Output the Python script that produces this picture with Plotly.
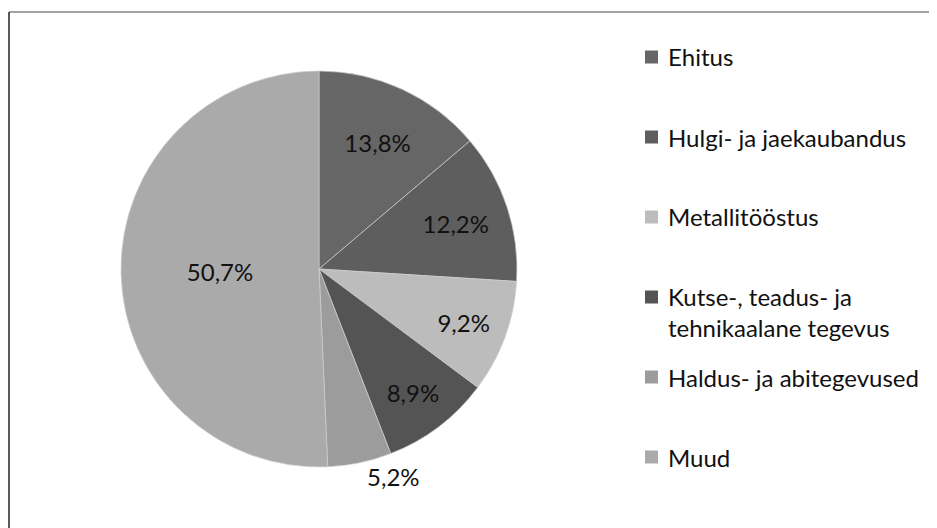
import plotly.graph_objects as go

# sector shares (%)
labels = ["Ehitus", "Hulgi- ja jaekaubandus", "Metallitööstus",
          "Kutse-, teadus- ja<br>tehnikaalane tegevus", "Haldus- ja abitegevused", "Muud"]
values = [13.8, 12.2, 9.2, 8.9, 5.2, 50.7]
colors = ["#666666", "#5e5e5e", "#bcbcbc", "#545454", "#9c9c9c", "#aaaaaa"]
text_pos = ["inside", "inside", "inside", "inside", "outside", "inside"]

W, H = 937, 528
OFF = 8  # the page body adds an 8px margin, pull everything back by that much
FONT = "Lato"


def px(x):
    return (x - OFF) / W


def py(y):
    return 1 - (y - OFF) / H


fig = go.Figure()
fig.add_trace(go.Pie(
    labels=labels, values=values, sort=False, direction="clockwise", rotation=0,
    marker=dict(colors=colors, line=dict(color="#cfcfcf", width=0.7)),
    texttemplate="%{value:.1f}%", textposition=text_pos,
    insidetextorientation="horizontal",
    textfont=dict(family=FONT, size=24, color="#111111"),
    domain=dict(x=[px(121), px(517)], y=[py(467), py(71)]),
    showlegend=False, hoverinfo="label+percent",
))

# legend drawn by hand so the items keep the wide, even spacing of the original
shapes = []
annotations = []
for i, (lab, col) in enumerate(zip(labels, colors)):
    yc = 57 + 80 * i
    nlines = lab.count("<br>") + 1
    shapes.append(dict(type="rect", xref="paper", yref="paper",
                       x0=px(645), x1=px(658), y0=py(yc + 6.5), y1=py(yc - 6.5),
                       fillcolor=col, line=dict(width=0)))
    annotations.append(dict(xref="paper", yref="paper", x=px(666),
                            y=py(yc + (nlines - 1) * 15),
                            xanchor="left", yanchor="middle", align="left", showarrow=False,
                            text=lab, font=dict(family=FONT, size=24, color="#111111")))

# scanned chart frame (only the top and left edges are visible)
shapes.append(dict(type="line", xref="paper", yref="paper", x0=px(9), x1=1, y0=py(12), y1=py(12),
                   line=dict(color="#444444", width=1)))
shapes.append(dict(type="line", xref="paper", yref="paper", x0=px(9), x1=px(9), y0=0, y1=py(12),
                   line=dict(color="#222222", width=1.5)))

fig.update_layout(
    width=W, height=H, margin=dict(l=0, r=0, t=0, b=0),
    paper_bgcolor="white", plot_bgcolor="white",
    separators=", ", shapes=shapes, annotations=annotations,
    font=dict(family=FONT),
)

fig.write_html("out.html")
